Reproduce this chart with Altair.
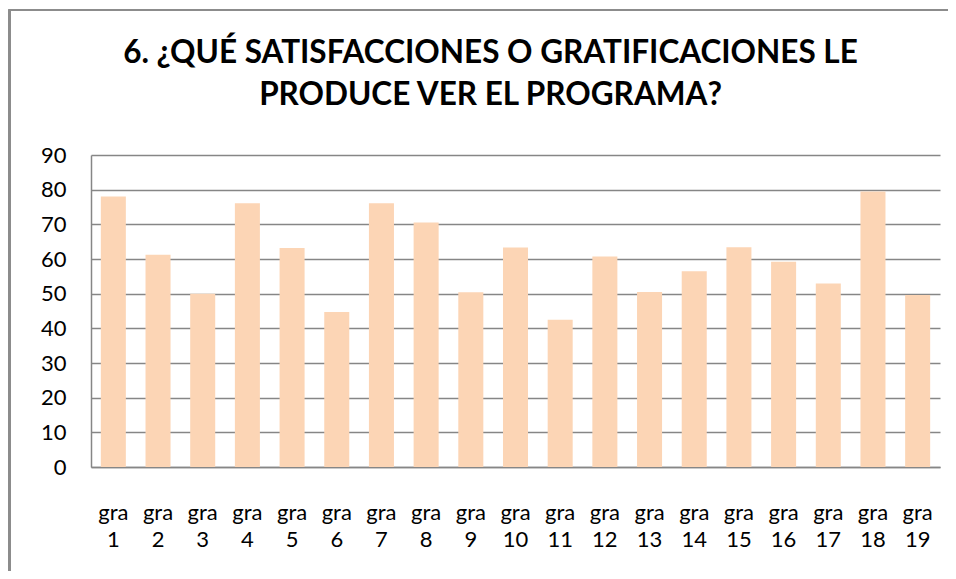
import altair as alt
import pandas as pd

categories = [f"gra {i}" for i in range(1, 20)]
values = [78.0, 61.2, 50.0, 76.1, 63.2, 44.7, 76.1, 70.5, 50.4, 63.3,
          42.5, 60.7, 50.5, 56.5, 63.4, 59.2, 52.9, 79.5, 49.6]
title_lines = ["6. ¿QUÉ SATISFACCIONES O GRATIFICACIONES LE", "PRODUCE VER EL PROGRAMA?"]

df = pd.DataFrame({"cat": categories, "val": values})

FONT = "Lato"

bars = alt.Chart(df).mark_bar(color="#FCD5B5").encode(
    x=alt.X("cat:N", sort=categories, title=None,
            scale=alt.Scale(paddingInner=0.44, paddingOuter=0.22),
            axis=alt.Axis(labelAngle=0, labelExpr="split(datum.label, ' ')",
                          labelFont=FONT, labelFontSize=22, labelColor="#000000",
                          labelLineHeight=27, labelPadding=35, ticks=False,
                          domainColor="#868686", domainWidth=1.5, grid=False)),
    y=alt.Y("val:Q", title=None,
            scale=alt.Scale(domain=[0, 90], nice=False),
            axis=alt.Axis(values=list(range(0, 91, 10)), labelFont=FONT, labelFontSize=22,
                          labelColor="#000000", labelPadding=25, ticks=False,
                          domainColor="#868686", domainWidth=1.5,
                          grid=True, gridColor="#868686", gridWidth=1.5)),
)

frame_top = alt.Chart(df).mark_rule(stroke="#8c8c8c", strokeWidth=1.5).encode(
    x=alt.value(-82), x2=alt.value(858), y=alt.value(-145)
)
frame_left = alt.Chart(df).mark_rule(stroke="#8c8c8c", strokeWidth=1.5).encode(
    x=alt.value(-81.5), y=alt.value(-145.5), y2=alt.value(417)
)

chart = alt.layer(bars, frame_top, frame_left).properties(
    width=849, height=312,
    autosize=alt.AutoSizeParams(type="none"),
    padding={"left": 83, "top": 147, "right": 8, "bottom": 104},
    title=alt.TitleParams(title_lines, font=FONT, fontSize=31.5, fontWeight="bold",
                          color="#000000", lineHeight=42, anchor="middle",
                          dx=-25, offset=40, dy=143),
).configure_view(stroke=None)

chart.save("out.html", embed_options={"renderer": "svg", "actions": False})
